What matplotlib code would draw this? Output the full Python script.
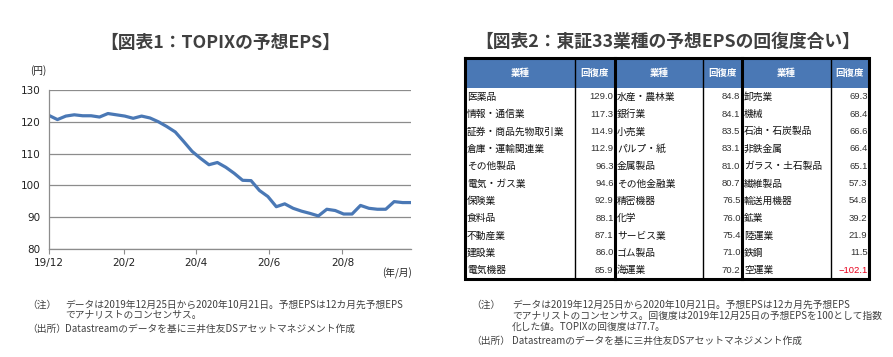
import matplotlib
matplotlib.use("Agg")
import matplotlib.pyplot as plt
from matplotlib.patches import Rectangle
import pandas as pd

plt.rcParams["font.family"] = ["Noto Sans CJK JP", "DejaVu Sans"]

# --- data: TOPIX forecast EPS, weekly from 2019-12-25 to 2020-10-21 ---
start_date = "2019-12-25"
eps = [122.0, 120.7, 121.8, 122.2, 121.9, 121.9, 121.5, 122.6, 122.2, 121.8,
       121.1, 121.8, 121.2, 120.0, 118.5, 116.8, 113.8, 110.7, 108.5, 106.5,
       107.2, 105.7, 103.8, 101.6, 101.5, 98.4, 96.5, 93.3, 94.2, 92.8,
       91.9, 91.2, 90.4, 92.5, 92.1, 91.0, 91.0, 93.7, 92.8, 92.5,
       92.5, 94.9, 94.6, 94.6]
tick_labels = ["19/12", "20/2", "20/4", "20/6", "20/8"]

# --- data: recovery ratio of the 33 TSE sectors ---
sectors = ["医薬品", "情報・通信業", "証券・商品先物取引業", "倉庫・運輸関連業", "その他製品",
           "電気・ガス業", "保険業", "食料品", "不動産業", "建設業", "電気機器",
           "水産・農林業", "銀行業", "小売業", "パルプ・紙", "金属製品", "その他金融業",
           "精密機器", "化学", "サービス業", "ゴム製品", "海運業",
           "卸売業", "機械", "石油・石炭製品", "非鉄金属", "ガラス・土石製品", "繊維製品",
           "輸送用機器", "鉱業", "陸運業", "鉄鋼", "空運業"]
recovery = [129.0, 117.3, 114.9, 112.9, 96.3, 94.6, 92.9, 88.1, 87.1, 86.0, 85.9,
            84.8, 84.1, 83.5, 83.1, 81.0, 80.7, 76.5, 76.0, 75.4, 71.0, 70.2,
            69.3, 68.4, 66.6, 66.4, 65.1, 57.3, 54.8, 39.2, 21.9, 11.5, -102.1]

W, H = 893, 357
BLUE = "#4a78b5"
GREY_TXT = "#404040"


def fx(x):
    return x / W


def fy(y):
    return 1 - y / H


fig = plt.figure(figsize=(W / 100, H / 100), dpi=100)

# ---------------- chart 1 ----------------
ax = fig.add_axes([fx(49), fy(249), fx(411 - 49), (249 - 90) / H])
dates = pd.date_range(start_date, periods=len(eps), freq="7D")
ax.plot(dates, eps, color=BLUE, lw=2.3, solid_joinstyle="round")
ax.set_xlim(dates[0], dates[-1])
ax.set_ylim(80, 130)
ax.set_yticks(range(80, 131, 10))
ticks = pd.date_range(start_date, periods=len(tick_labels), freq=pd.DateOffset(months=2))
ax.set_xticks(ticks)
ax.set_xticklabels(tick_labels)
ax.grid(axis="y", color="#8c8c8c", lw=0.9)
ax.set_axisbelow(True)
for s in ["top", "right"]:
    ax.spines[s].set_visible(False)
for s in ["left", "bottom"]:
    ax.spines[s].set_color("#8c8c8c")
    ax.spines[s].set_linewidth(0.9)
ax.tick_params(axis="y", length=0, pad=6, labelsize=7.5, labelcolor="#222222")
ax.tick_params(axis="x", length=3.5, color="#8c8c8c", pad=3, labelsize=7.5,
               labelcolor="#222222")
for lab in ax.get_yticklabels() + ax.get_xticklabels():
    lab.set_family("DejaVu Sans")

fig.text(fx(220), fy(43), "【図表1：TOPIXの予想EPS】", ha="center", va="center",
         fontsize=12.8, fontweight="bold", color=GREY_TXT)
fig.text(fx(38), fy(71), "(円)", ha="center", va="center", fontsize=7, color="#222222")
fig.text(fx(397), fy(273), "(年/月)", ha="center", va="center", fontsize=7, color="#222222")

note_kw = dict(fontsize=7, color=GREY_TXT, va="center", ha="left")
fig.text(fx(27), fy(305), "（注）", **note_kw)
fig.text(fx(65), fy(305), "データは2019年12月25日から2020年10月21日。予想EPSは12カ月先予想EPS", **note_kw)
fig.text(fx(65), fy(315), "でアナリストのコンセンサス。", **note_kw)
fig.text(fx(27), fy(329), "（出所）", **note_kw)
fig.text(fx(65), fy(329), "Datastreamのデータを基に三井住友DSアセットマネジメント作成", **note_kw)

# ---------------- chart 2 (table) ----------------
fig.text(fx(668), fy(42), "【図表2：東証33業種の予想EPSの回復度合い】", ha="center", va="center",
         fontsize=12.8, fontweight="bold", color=GREY_TXT)

col_edges = [465, 575, 615, 703, 742, 831, 869]
top, head_bot, bot = 58, 88, 279
n_rows = 11
row_h = (bot - head_bot) / n_rows

tx = fig.add_axes([0, 0, 1, 1])
tx.set_xlim(0, W)
tx.set_ylim(H, 0)
tx.axis("off")

# header
tx.add_patch(Rectangle((col_edges[0], top), col_edges[-1] - col_edges[0], head_bot - top,
                       facecolor=BLUE, edgecolor="none"))
headers = ["業種", "回復度"] * 3
for i, h in enumerate(headers):
    cx = (col_edges[i] + col_edges[i + 1]) / 2
    tx.text(cx, (top + head_bot) / 2, h, ha="center", va="center", fontsize=6.8,
            fontweight="bold", color="white")

# body
for g in range(3):
    for r in range(n_rows):
        k = g * n_rows + r
        cy = head_bot + (r + 0.5) * row_h
        tx.text(col_edges[2 * g] + 2, cy, sectors[k], ha="left", va="center",
                fontsize=7, color="#111111")
        val = recovery[k]
        tx.text(col_edges[2 * g + 2] - 1.5, cy, f"{val:.1f}".replace("-", "\u2212"),
                ha="right", va="center", fontsize=6.8, family="Liberation Sans",
                color="#e8001c" if val < 0 else "#333333")

# borders
tx.plot([col_edges[0], col_edges[-1], col_edges[-1], col_edges[0], col_edges[0]],
        [top, top, bot, bot, top], color="black", lw=2.2, solid_joinstyle="miter")
for i in range(1, len(col_edges) - 1):
    lw = 2.2 if i % 2 == 0 else 1.0
    tx.plot([col_edges[i], col_edges[i]], [top, bot], color="black", lw=lw)

fig.text(fx(471), fy(305), "（注）", **note_kw)
fig.text(fx(512), fy(305), "データは2019年12月25日から2020年10月21日。予想EPSは12カ月先予想EPS", **note_kw)
fig.text(fx(512), fy(316), "でアナリストのコンセンサス。回復度は2019年12月25日の予想EPSを100として指数", **note_kw)
fig.text(fx(512), fy(327), "化した値。TOPIXの回復度は77.7。", **note_kw)
fig.text(fx(471), fy(341), "（出所）", **note_kw)
fig.text(fx(512), fy(341), "Datastreamのデータを基に三井住友DSアセットマネジメント作成", **note_kw)

fig.savefig("out.png", dpi=100, facecolor="white")
